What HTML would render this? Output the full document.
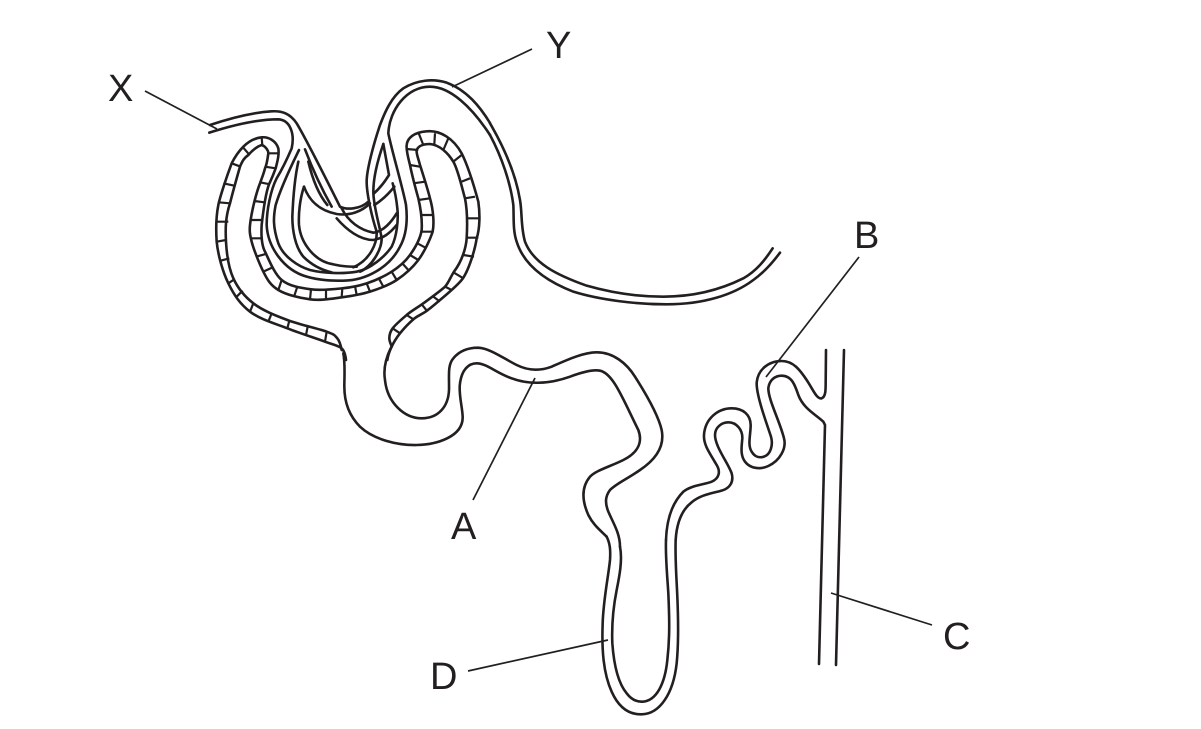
<!DOCTYPE html>
<html>
<head>
<meta charset="utf-8">
<style>
html,body{margin:0;padding:0;background:#fff}
svg{display:block}
path{fill:none;stroke:#231f20;stroke-width:2.6;stroke-linecap:round;stroke-linejoin:round;vector-effect:non-scaling-stroke}
.thin{stroke-width:1.7;stroke-linecap:butt}
.cell{stroke-width:2.2;stroke-linecap:butt}
text{font-family:"Liberation Sans",sans-serif;font-size:38px;fill:#231f20}
</style>
</head>
<body>
<svg width="1201" height="729" viewBox="0 0 1201 729" xmlns="http://www.w3.org/2000/svg">
<rect width="1201" height="729" fill="#fff"/>

<!-- Renal corpuscle -->
<g transform="translate(200 70) scale(.33333)">
  <!-- Afferent / efferent and capillary tuft -->
  <path d="M30,165 C80,148 150,128 215,124 C245,122 270,130 290,160 C320,210 385,340 420,410 C440,420 480,418 505,395"/>
  <path d="M28,188 C90,168 170,148 235,148 C270,150 285,190 275,235 C260,270 245,300 230,325 C212,360 200,420 200,465 C203,530 250,600 320,620 C360,632 400,632 430,632 C500,632 570,590 600,530 C622,490 622,440 618,405 C610,360 575,240 565,190 C568,120 620,50 690,50 C750,50 815,110 870,195"/>
  <path d="M870,159 C840,110 800,60 740,38 C700,25 650,30 610,55 C575,80 555,125 540,165 C520,225 500,300 500,335 C500,370 515,440 530,485 C532,520 510,570 460,592"/>
  <path d="M297,240 C280,275 245,345 227,405 C220,440 218,470 235,520 C250,560 295,590 330,600 C370,610 430,612 470,605 C510,598 555,560 575,530 C590,500 596,450 592,415 C590,395 585,365 578,340"/>
  <path d="M295,275 C285,320 280,365 277,440 C277,480 285,530 310,560 C335,585 365,600 395,607"/>
  <path d="M312,350 C300,385 295,430 297,465 C302,520 345,575 400,583 C430,590 450,590 470,590"/>
  <path d="M550,222 C535,265 520,320 520,365 C520,410 540,470 545,505 C545,540 515,590 480,605"/>
  <path d="M550,222 L567,315 Q545,350 522,370"/>
  <path d="M583,350 Q555,385 523,405"/>
  <path d="M425,415 C445,455 480,480 520,488 C550,485 575,455 590,430"/>
  <path d="M410,445 C440,480 480,510 520,510 C550,505 570,490 590,465"/>
  <path d="M312,350 C325,385 350,420 410,432 C450,438 485,425 510,400"/>
  <path d="M315,238 Q350,330 395,410"/>
  <path d="M325,275 Q345,360 382,405"/>

  <!-- Capsule walls -->
  <path d="M438,870 S436,844 425,835 S402,825 375,815 S300,790 262,775 S180,748 150,725 S102,675 85,640 S54,555 50,515 C47,470 48,440 55,405 C60,380 80,320 95,280 C105,260 115,245 130,230 C145,215 165,204 185,202 C205,200 228,212 235,235 C238,255 232,275 227,295 C218,320 212,332 207,343 C197,370 190,420 185,465 C183,500 187,530 195,545 S222,611 245,630 S303,654 333,658 S399,658 427,655 S475,648 500,640 S553,619 575,605 S615,576 630,555 S661,507 665,480 C667,450 663,420 655,385 C648,360 635,310 630,285 C625,265 618,240 620,225 C622,205 640,187 680,184 C720,180 760,205 785,250 C800,280 820,340 835,395 C840,430 840,475 830,505 C825,540 805,605 785,630 S714,695 690,715 S655,735 640,748 S611,776 600,790 S581,817 575,830 S565,850 562,870"/>
  <path d="M425,840 S420,814 412,805 S405,794 380,785 S299,764 262,750 S187,721 160,700 S114,656 100,625 S80,552 78,515 S76,442 90,400 C95,380 110,325 120,290 C128,270 135,262 145,255 C158,240 170,230 185,225 C195,228 205,240 205,250 C203,265 200,285 195,295 C190,315 185,325 180,340 C170,365 155,420 150,465 C148,485 150,495 155,515 S177,579 190,605 S212,646 235,660 S298,684 330,688 S395,686 425,682 S482,674 510,665 S566,646 590,630 S637,594 655,570 S691,507 698,485 C703,460 700,420 690,385 C685,365 668,310 660,285 C655,265 648,250 650,240 C655,228 670,222 690,222 C720,225 745,250 760,275 C775,300 790,370 795,385 C802,420 802,470 800,505 C798,535 785,575 762,605 C752,620 745,640 735,650 S689,686 670,700 S635,722 620,735 S587,763 578,775 S568,796 568,805 S572,820 575,830"/>

  <!-- Cell dividers -->
  <path class="cell" d="M130,233L147,253M95,280L122,290M70,340L103,347M55,397L90,400M50,455L85,455M50,515L78,510M62,572L88,565M85,640L103,628M110,680L128,662M150,725L160,700M205,755L215,730M262,775L268,752M318,795L323,770M375,815L380,785M185,202L187,227"/>
  <path class="cell" d="M205,250L233,250M195,290L227,295M180,337L210,343M163,393L193,397M153,450L185,450M150,505L185,505M168,560L198,552M190,605L218,592M235,660L245,630M283,677L292,650M330,688L333,658M378,688L378,660M425,682L427,655M470,675L465,648M510,665L500,640M550,650L538,628M590,630L575,605M625,600L605,578M655,570L630,555M680,535L652,520M665,485L700,485M663,435L700,435M655,390L690,385M640,340L675,335M630,285L660,290M620,237L655,240M655,187L670,225M705,190L703,222M745,205L730,240M785,255L760,275M810,325L785,335M825,380L795,385M837,445L800,445M835,503L800,503M790,555L822,560M762,608L790,625M735,650L755,660M700,680L720,695M665,703L683,725M620,735L640,748M578,775L600,790"/>
</g>

<!-- Descending tube from Y -->
<g transform="translate(490 120) scale(.33333)">
  <path d="M0,10 C35,70 75,150 90,240 C97,280 92,320 105,365 C130,430 200,465 290,497 C370,520 450,530 520,530 C610,530 690,510 760,475 C800,452 825,420 848,385"/>
  <path d="M0,45 C35,110 62,190 70,255 C72,290 68,330 80,365 C100,430 160,480 250,515 C330,540 440,553 530,553 C640,553 730,525 790,480 C825,455 850,425 870,398"/>
</g>

<!-- Proximal tubule -->
<g transform="translate(330 320) scale(.33333)">
  <path d="M182,85 C165,120 160,150 165,180 C172,250 225,295 275,295 C325,295 355,260 357,210 C358,170 352,135 370,115 C390,90 420,83 445,83 C480,85 520,115 560,135 C590,150 625,155 665,140 C710,120 760,97 800,97 C850,97 890,130 915,170 C950,225 985,285 995,330 C1005,380 975,420 930,450 C890,478 860,490 840,510 C825,530 825,550 835,575 C850,610 870,640 870,680"/>
  <path d="M40,100 C46,130 43,170 43,200 C43,240 55,285 90,320 C130,358 200,376 260,375 C320,374 400,350 398,290 C397,260 385,220 390,190 C395,150 415,130 440,130 C470,130 500,160 545,175 C590,192 650,195 720,170 C760,155 790,148 810,152 C850,160 880,240 925,330 C940,370 920,400 880,420 C840,440 800,450 780,470 C755,500 755,540 775,585 C790,615 810,630 830,650"/>
</g>

<!-- Loop of Henle -->
<g transform="translate(560 520) scale(.33333)">
  <path d="M180,80 C188,120 178,170 170,210 C158,270 155,320 157,370 C162,440 175,490 200,520 C215,540 232,546 248,545 C290,542 315,490 322,420 C330,350 328,290 325,220 C322,170 316,110 318,60"/>
  <path d="M140,50 C150,70 152,90 150,120 C145,170 130,240 128,310 C125,390 130,460 155,515 C175,560 205,584 245,583 C300,582 340,520 350,430 C356,370 355,300 352,230 C350,180 345,120 347,60"/>
</g>

<!-- Distal tubule and collecting duct -->
<g transform="translate(660 340) scale(.33333)">
  <path d="M18,600 C20,540 35,490 70,455 C95,435 130,435 155,425 C178,415 182,395 170,375 C150,340 130,315 132,285 C135,235 175,205 215,205 C250,205 272,225 272,255 C272,285 262,315 275,335 C285,352 300,354 312,350 C332,343 340,315 333,290 C320,250 290,170 290,130 C292,90 325,63 365,63 C400,63 420,90 440,120 C460,150 470,178 485,175 C497,170 497,150 497,130 L498,30"/>
  <path d="M47,600 C50,550 65,510 95,487 C120,465 155,460 185,452 C210,445 222,425 215,400 C205,370 165,320 165,285 C165,262 185,247 205,247 C230,247 248,270 247,295 C245,320 240,345 255,365 C270,385 300,390 325,378 C360,362 380,325 372,295 C360,245 325,180 325,145 C328,120 345,107 365,107 C395,107 405,135 415,165 C430,205 465,222 490,245 L495,255 L477,972"/>
  <path d="M552,30 L528,975"/>
</g>

<!-- Leader lines -->
<path class="thin" d="M145,91L217,129"/>
<path class="thin" d="M532,49L452,87"/>
<path class="thin" d="M859,257L766,377"/>
<path class="thin" d="M473,500L535,378"/>
<path class="thin" d="M932,625L831,593"/>
<path class="thin" d="M468,671L608,640"/>

<!-- Labels -->
<text x="108" y="101">X</text>
<text x="546" y="58">Y</text>
<text x="854" y="248">B</text>
<text x="451" y="539">A</text>
<text x="943" y="649">C</text>
<text x="430" y="689">D</text>
</svg>
</body>
</html>
